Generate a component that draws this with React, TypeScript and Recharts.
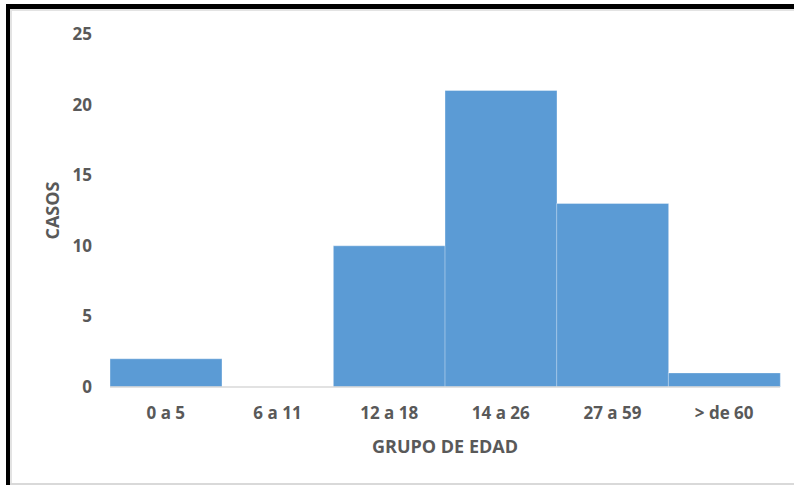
import { BarChart, Bar, XAxis, YAxis } from "recharts";

const grupos = ["0 a 5", "6 a 11", "12 a 18", "14 a 26", "27 a 59", "> de 60"];
const casos = [2, 0, 10, 21, 13, 1];
const yTicks = [0, 5, 10, 15, 20, 25];

const data = grupos.map((grupo, i) => ({ grupo, casos: casos[i] }));

const font = "'Open Sans', 'DejaVu Sans', sans-serif";
const textGray = "#595959";

// simple filled strip used for the picture frame
function Strip({ left, top, width, height, color }: { left: number; top: number; width: number; height: number; color: string }) {
  return <div style={{ position: "absolute", left, top, width, height, backgroundColor: color }} />;
}

export default function App() {
  return (
    <div style={{ position: "fixed", left: 0, top: 0, width: 794, height: 485, overflow: "hidden", backgroundColor: "#fff" }}>
      <Strip left={10} top={9} width={784} height={2} color="#e3e3e3" />
      <Strip left={10} top={9} width={2} height={476} color="#e3e3e3" />
      <Strip left={10} top={483} width={784} height={2} color="#d9d9d9" />
      <Strip left={6} top={4} width={788} height={5} color="#000" />
      <Strip left={6} top={4} width={4} height={481} color="#000" />
      <div style={{ position: "absolute", left: 0, top: 0 }}>
        <BarChart
          width={794}
          height={485}
          data={data}
          barCategoryGap={0}
          margin={{ top: 34, right: 14, bottom: 28, left: 0 }}
        >
          <XAxis
            dataKey="grupo"
            height={70}
            axisLine={{ stroke: "#d9d9d9", strokeWidth: 1.5 }}
            tickLine={false}
            tickSize={0}
            tickMargin={20}
            tick={{ fill: textGray, fontSize: 17, fontWeight: 700, fontFamily: font }}
            label={{
              value: "GRUPO DE EDAD",
              position: "insideBottom",
              offset: 4,
              fill: textGray,
              fontSize: 18,
              fontWeight: 700,
              fontFamily: font,
            }}
          />
          <YAxis
            width={110}
            domain={[0, 25]}
            ticks={yTicks}
            axisLine={false}
            tickLine={false}
            tickSize={0}
            tickMargin={18}
            tick={{ fill: textGray, fontSize: 17, fontWeight: 700, fontFamily: font }}
            label={{
              value: "CASOS",
              angle: -90,
              position: "insideLeft",
              offset: 53,
              fill: textGray,
              fontSize: 18,
              fontWeight: 700,
              fontFamily: font,
              style: { textAnchor: "middle" },
            }}
          />
          <Bar
            dataKey="casos"
            fill="#5b9bd5"
            stroke="#ffffff"
            strokeOpacity={0.35}
            strokeWidth={1}
            isAnimationActive={false}
          />
        </BarChart>
      </div>
    </div>
  );
}
